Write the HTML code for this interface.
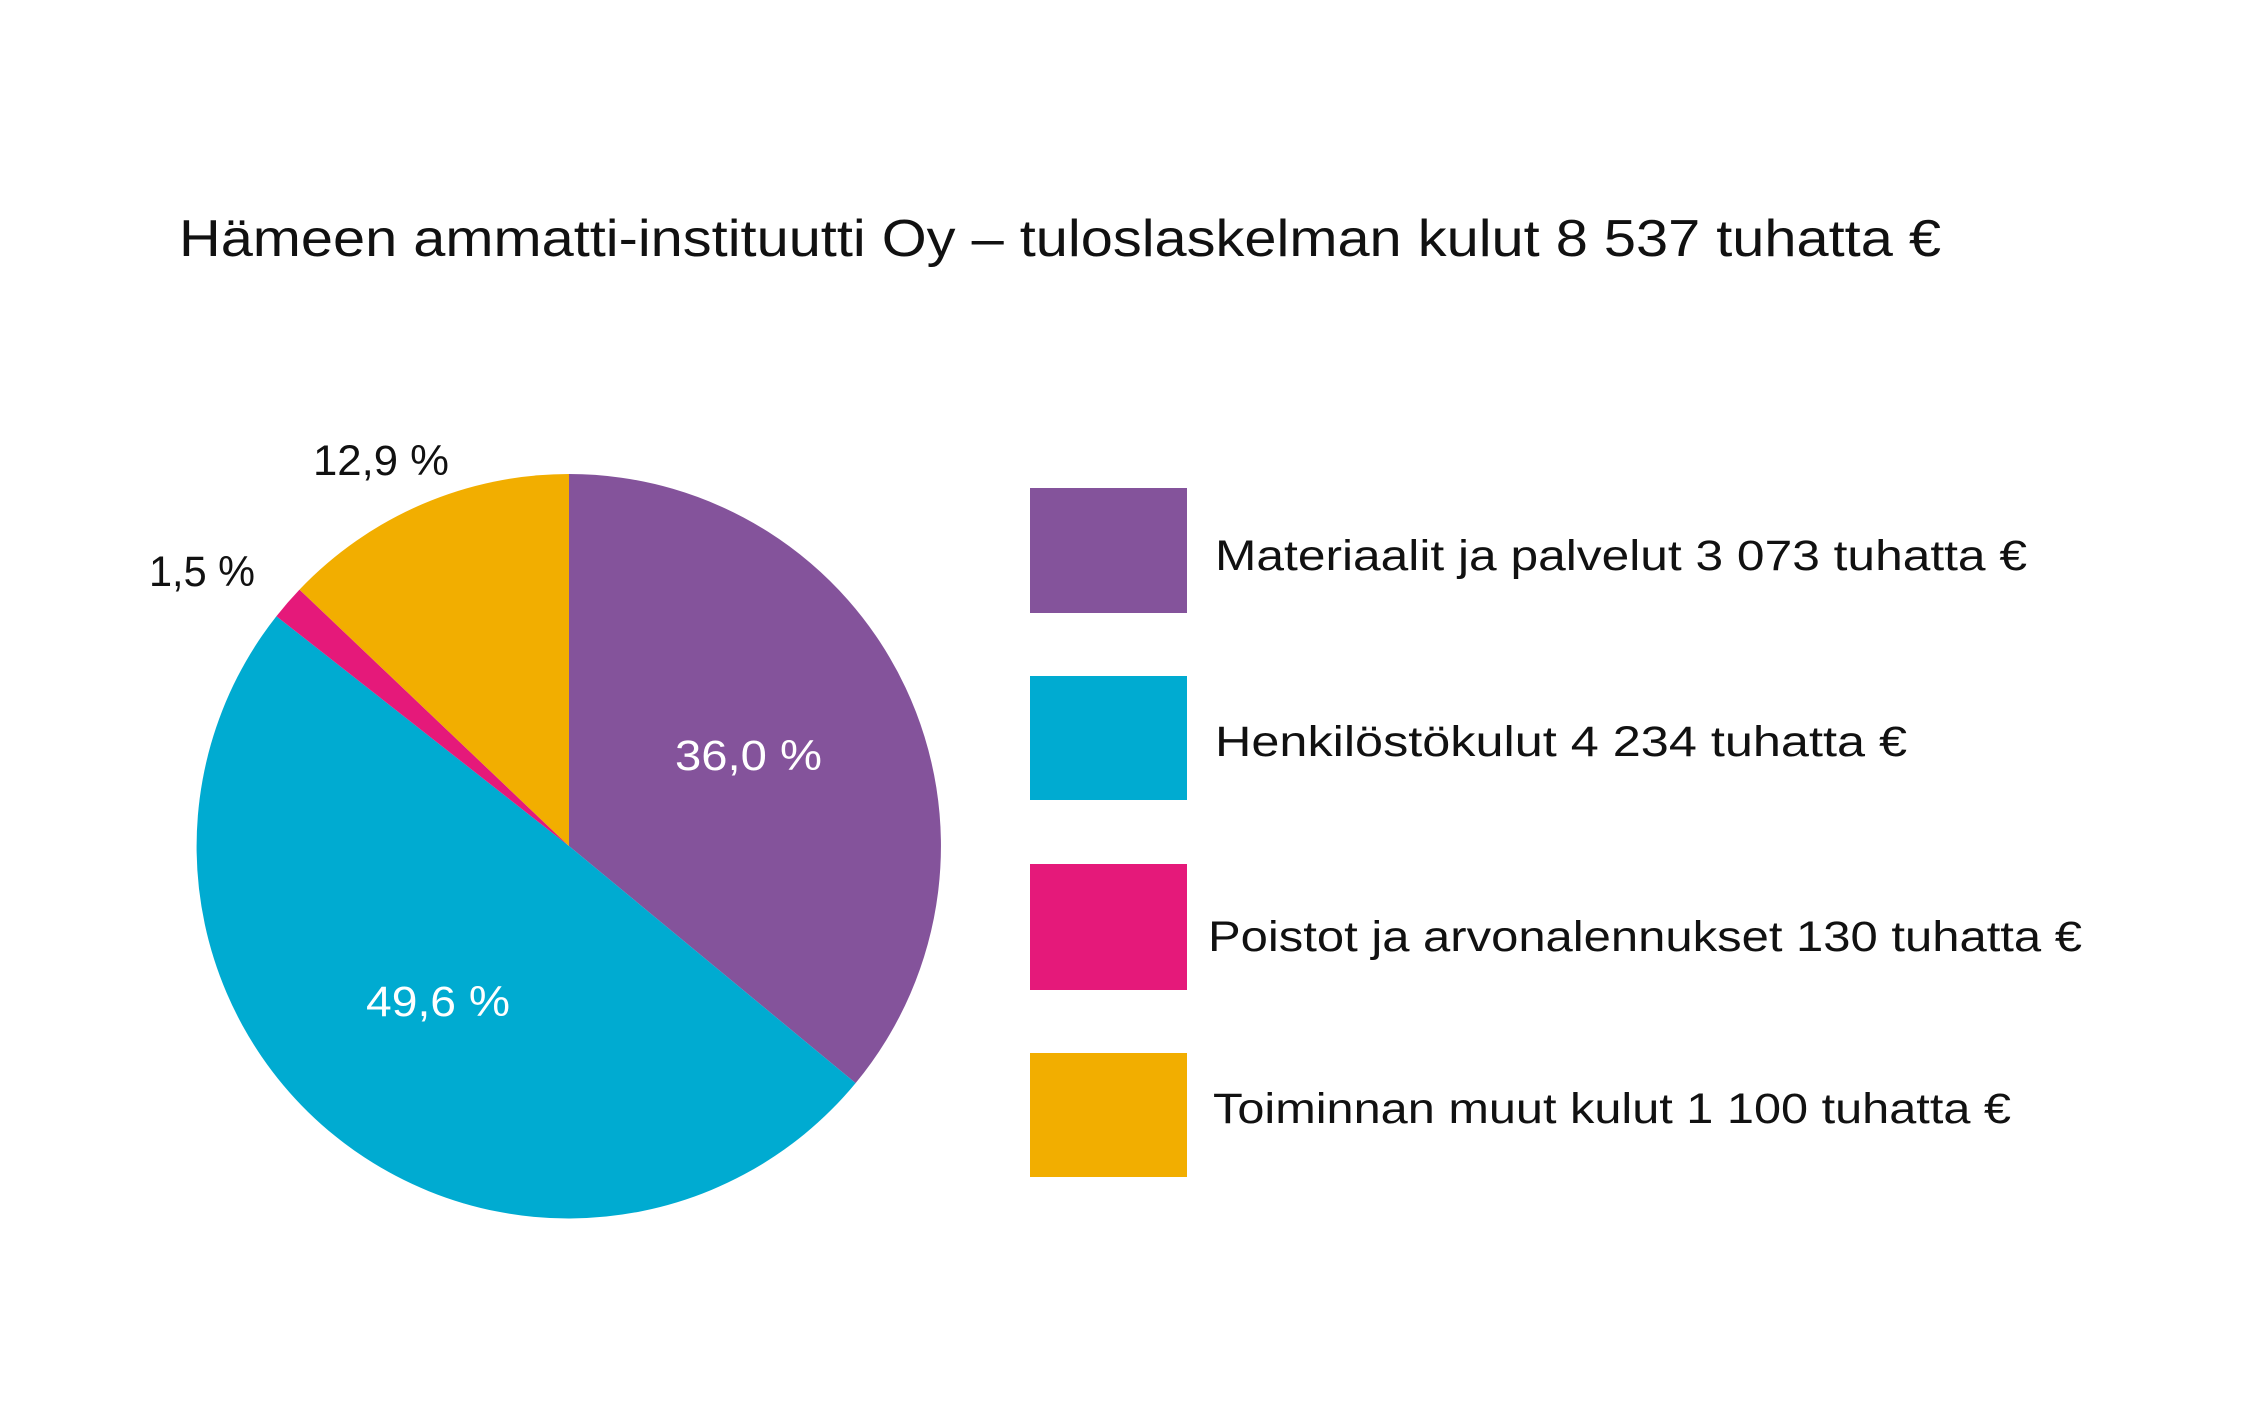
<!DOCTYPE html>
<html><head><meta charset="utf-8"><style>html,body{margin:0;padding:0;background:#fff}</style></head>
<body>
<svg width="2244" height="1417" viewBox="0 0 2244 1417" xmlns="http://www.w3.org/2000/svg" font-family="Liberation Sans, sans-serif">
<rect width="2244" height="1417" fill="#fff"/>
<text x="179" y="256" font-size="52" fill="#111" textLength="1762" lengthAdjust="spacingAndGlyphs">Hämeen ammatti-instituutti Oy – tuloslaskelman kulut 8 537 tuhatta €</text>
<path d="M569,846 L569,474 A372,372 0 0 1 855.6,1083.1 Z" fill="#84539b"/>
<path d="M569,846 L855.6,1083.1 A372,372 0 0 1 276.4,616.2 Z" fill="#00abd1"/>
<path d="M569,846 L276.4,616.2 A372,372 0 0 1 299.5,589.6 Z" fill="#e5197a"/>
<path d="M569,846 L299.5,589.6 A372,372 0 0 1 569,474 Z" fill="#f2ae00"/>
<text x="675" y="770" font-size="43" fill="#fff" textLength="147" lengthAdjust="spacingAndGlyphs">36,0 %</text>
<text x="366" y="1016" font-size="43" fill="#fff" textLength="144" lengthAdjust="spacingAndGlyphs">49,6 %</text>
<text x="313" y="475" font-size="43" fill="#111" textLength="136" lengthAdjust="spacingAndGlyphs">12,9 %</text>
<text x="149" y="586" font-size="43" fill="#111" textLength="106" lengthAdjust="spacingAndGlyphs">1,5 %</text>
<rect x="1030" y="488" width="157" height="125" fill="#84539b"/>
<rect x="1030" y="676" width="157" height="124" fill="#00abd1"/>
<rect x="1030" y="864" width="157" height="126" fill="#e5197a"/>
<rect x="1030" y="1053" width="157" height="124" fill="#f2ae00"/>
<text x="1215" y="570" font-size="43" fill="#111" textLength="812" lengthAdjust="spacingAndGlyphs">Materiaalit ja palvelut 3 073 tuhatta €</text>
<text x="1215" y="756" font-size="43" fill="#111" textLength="692" lengthAdjust="spacingAndGlyphs">Henkilöstökulut 4 234 tuhatta €</text>
<text x="1208" y="951" font-size="43" fill="#111" textLength="874" lengthAdjust="spacingAndGlyphs">Poistot ja arvonalennukset 130 tuhatta €</text>
<text x="1213" y="1123" font-size="43" fill="#111" textLength="798" lengthAdjust="spacingAndGlyphs">Toiminnan muut kulut 1 100 tuhatta €</text>
</svg>
</body></html>
